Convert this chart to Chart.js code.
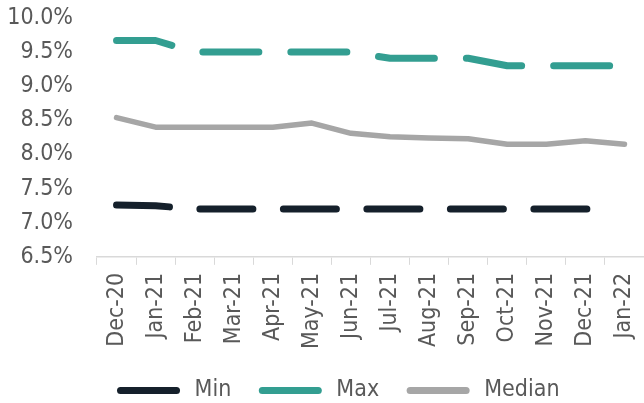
<!DOCTYPE html>
<html>
<head>
<meta charset="utf-8">
<script src="https://cdn.jsdelivr.net/npm/chart.js@4.4.1/dist/chart.umd.min.js"></script>
<style>
html,body{margin:0;padding:0;background:#fff;overflow:hidden;}
#wrap{width:644px;height:403px;position:relative;}
</style>
</head>
<body>
<div id="wrap"><canvas id="c" width="644" height="403"></canvas></div>
<script>
const categories = ['Dec-20','Jan-21','Feb-21','Mar-21','Apr-21','May-21','Jun-21','Jul-21','Aug-21','Sep-21','Oct-21','Nov-21','Dec-21','Jan-22'];
const minValues    = [7.26, 7.25, 7.2, 7.2, 7.2, 7.2, 7.2, 7.2, 7.2, 7.2, 7.2, 7.2, 7.2, 7.2];
const maxValues    = [9.67, 9.67, 9.5, 9.5, 9.5, 9.5, 9.5, 9.41, 9.41, 9.41, 9.3, 9.3, 9.3, 9.3];
const medianValues = [8.54, 8.4, 8.4, 8.4, 8.4, 8.46, 8.31, 8.26, 8.24, 8.23, 8.15, 8.15, 8.2, 8.15];
const yTicks = [6.5, 7.0, 7.5, 8.0, 8.5, 9.0, 9.5, 10.0];

const FONT = 'DejaVu Sans Condensed';
const FS = 23;
const TXT = '#595959';

const legendShift = {
  id:'legendShift',
  afterLayout(chart){ const l = chart.legend; if(l){ l.left += 18; l.right += 18; } }
};

const minDash = [53,30.5,53,30.5,53,30.5,53,30.5,53,30.5,53,100];

const chart = new Chart(document.getElementById('c'), {
  type: 'line',
  data: {
    labels: categories,
    datasets: [
      {label:'Min', data:minValues, borderColor:'#15202B', backgroundColor:'#15202B', borderWidth:7, borderDash:minDash, borderCapStyle:'round', borderJoinStyle:'round', pointRadius:0, tension:0},
      {label:'Max', data:maxValues, borderColor:'#339E91', backgroundColor:'#339E91', borderWidth:7, borderDash:[56,32], borderCapStyle:'round', borderJoinStyle:'round', pointRadius:0, tension:0},
      {label:'Median', data:medianValues, borderColor:'#A6A6A6', backgroundColor:'#A6A6A6', borderWidth:5.5, borderCapStyle:'round', borderJoinStyle:'round', pointRadius:0, tension:0}
    ]
  },
  plugins:[legendShift],
  options: {
    responsive:false,
    animation:false,
    devicePixelRatio:1,
    layout:{autoPadding:false, padding:{left:0, right:0, top:18, bottom:-9}},
    plugins:{
      tooltip:{enabled:false},
      legend:{
        position:'bottom',
        labels:{
          usePointStyle:true,
          pointStyle:'line',
          pointStyleWidth:56,
          padding:31,
          color:TXT,
          font:{family:FONT, size:FS},
          generateLabels(chart){
            return chart.data.datasets.map((ds,i)=>({
              text:' '+ds.label, strokeStyle:ds.borderColor, fillStyle:ds.borderColor,
              lineWidth:7, lineCap:'round', lineDash:[], pointStyle:'line',
              hidden:false, datasetIndex:i, fontColor:TXT
            }));
          }
        }
      }
    },
    scales:{
      y:{
        min:6.5, max:10.0,
        afterBuildTicks(axis){ axis.ticks = yTicks.map(v=>({value:v})); },
        afterFit(s){ s.width = 97; s.paddingTop = 0; s.paddingBottom = 0; },
        grid:{display:false, drawTicks:false, tickLength:0},
        border:{display:false},
        ticks:{padding:24, color:TXT, font:{family:FONT, size:FS}, callback:v=>Number(v).toFixed(1)+'%'}
      },
      x:{
        offset:true,
        afterFit(s){ s.paddingLeft = 0; s.paddingRight = 0; s.height = s.height - 9; },
        grid:{display:true, drawOnChartArea:false, drawTicks:true, tickLength:8, color:'#D9D9D9', offset:true},
        border:{display:true, color:'#D9D9D9', width:1.5},
        ticks:{minRotation:90, maxRotation:90, autoSkip:false, padding:8, color:TXT, font:{family:FONT, size:FS}}
      }
    }
  }
});
</script>
</body>
</html>
